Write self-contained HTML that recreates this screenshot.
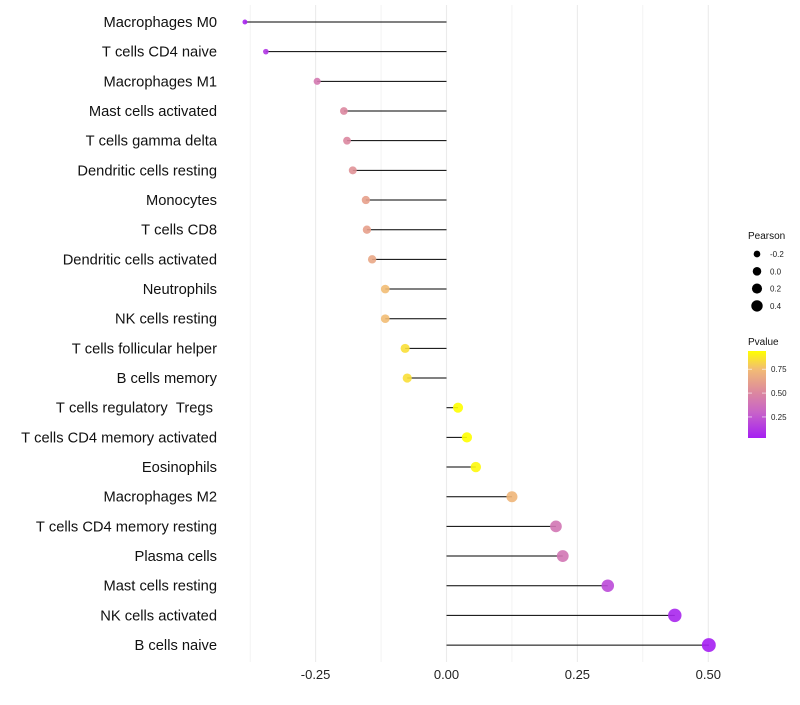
<!DOCTYPE html>
<html><head><meta charset="utf-8"><style>
body{margin:0;background:#fff;font-family:"Liberation Sans",sans-serif;}
svg text{font-family:"Liberation Sans",sans-serif;}
</style></head><body>
<svg id="chart" width="800" height="700"></svg>
<script>
const categories=["Macrophages M0","T cells CD4 naive","Macrophages M1","Mast cells activated","T cells gamma delta","Dendritic cells resting","Monocytes","T cells CD8","Dendritic cells activated","Neutrophils","NK cells resting","T cells follicular helper","B cells memory","T cells regulatory  Tregs ","T cells CD4 memory activated","Eosinophils","Macrophages M2","T cells CD4 memory resting","Plasma cells","Mast cells resting","NK cells activated","B cells naive"];
const pearson=[-0.385,-0.345,-0.247,-0.196,-0.19,-0.179,-0.154,-0.152,-0.142,-0.117,-0.117,-0.079,-0.075,0.022,0.039,0.056,0.125,0.209,0.222,0.308,0.436,0.501];
const pvalues=[0.05,0.12,0.42,0.5,0.5,0.55,0.62,0.62,0.65,0.75,0.75,0.85,0.85,0.95,0.94,0.92,0.72,0.4,0.4,0.2,0.06,0.03];
const xTicks=[-0.25,0,0.25,0.5];
const xTickLabels=["-0.25","0.00","0.25","0.50"];
const sizeLegend=[-0.2,0,0.2,0.4];
const sizeLegendLabels=["-0.2","0.0","0.2","0.4"];
const pLegend=[0.25,0.5,0.75];

const NS="http://www.w3.org/2000/svg";
const svg=document.getElementById('chart');
function mk(t,a,p){const e=document.createElementNS(NS,t);for(const k in a)e.setAttribute(k,a[k]);(p||svg).appendChild(e);return e;}
const x=v=>446.5+v*523.6;
const y=i=>22+i*29.67;
const r=v=>Math.sqrt(Math.max(3,20.2+39.6*v));
const stops=[[0.03,[165,31,242]],[0.3,[200,100,200]],[0.5,[220,135,160]],[0.75,[242,188,116]],[0.94,[255,255,0]]];
function col(p){if(p<=stops[0][0])return rgb(stops[0][1]);for(let i=1;i<stops.length;i++){if(p<=stops[i][0]){const t=(p-stops[i-1][0])/(stops[i][0]-stops[i-1][0]);return rgb(stops[i-1][1].map((c,j)=>c+(stops[i][1][j]-c)*t));}}return rgb(stops[stops.length-1][1]);}
function rgb(a){return`rgb(${a.map(Math.round).join(',')})`;}

[-0.375,-0.25,-0.125,0,0.125,0.25,0.375,0.5].forEach(v=>{
 const g=mk('line',{x1:x(v),x2:x(v),y1:5,y2:662,stroke:'#ebebeb','stroke-width':Number.isInteger(v*4)?1.1:0.6});
 
 
});
xTicks.forEach((v,i)=>{
 const t=mk('text',{x:x(v),y:679,'text-anchor':'middle','font-size':13,fill:'#222'});
 t.textContent=xTickLabels[i];
 
 
});
categories.forEach((c,i)=>{
 const t=mk('text',{x:217,y:y(i)+5,'text-anchor':'end','font-size':14.7,fill:'#111'});
 t.textContent=c.replace(/ /g,'\u00a0');
 
 
 const l=mk('line',{x1:x(0),x2:x(pearson[i]),y1:y(i),y2:y(i),stroke:'#000','stroke-width':1});
 
 
 const d=mk('circle',{cx:x(pearson[i]),cy:y(i),r:r(pearson[i])*1.1,fill:col(pvalues[i]),'fill-opacity':0.9});
 
 
});
const lt=mk('text',{x:748,y:239,'font-size':10,fill:'#111'});lt.textContent='Pearson';


sizeLegend.forEach((v,i)=>{
 const cy=254+i*17.3;
 const c=mk('circle',{cx:757,cy:cy,r:r(v)*0.95,fill:'#000'});
 
 
 const t=mk('text',{x:770,y:cy+3,'font-size':8,fill:'#222'});t.textContent=sizeLegendLabels[i];
 
 
});
const pt=mk('text',{x:748,y:345,'font-size':10,fill:'#111'});pt.textContent='Pvalue';


const defs=mk('defs',{});
const lg=mk('linearGradient',{id:'pg',x1:0,y1:1,x2:0,y2:0},defs);
stops.forEach(s=>mk('stop',{offset:((s[0]-0.03)/0.91),'stop-color':rgb(s[1])},lg));
const bar=mk('rect',{x:748,y:351,width:18,height:87,fill:'url(#pg)'});


const py=p=>438-(p-0.03)/0.91*87;
pLegend.forEach(p=>{
 mk('line',{x1:748,x2:752,y1:py(p),y2:py(p),stroke:'#fff','stroke-width':0.6});
 mk('line',{x1:762,x2:766,y1:py(p),y2:py(p),stroke:'#fff','stroke-width':0.6});
 const t=mk('text',{x:771,y:py(p)+3,'font-size':8,fill:'#222'});t.textContent=p.toFixed(2);
 
 
});
</script>
</body></html>
